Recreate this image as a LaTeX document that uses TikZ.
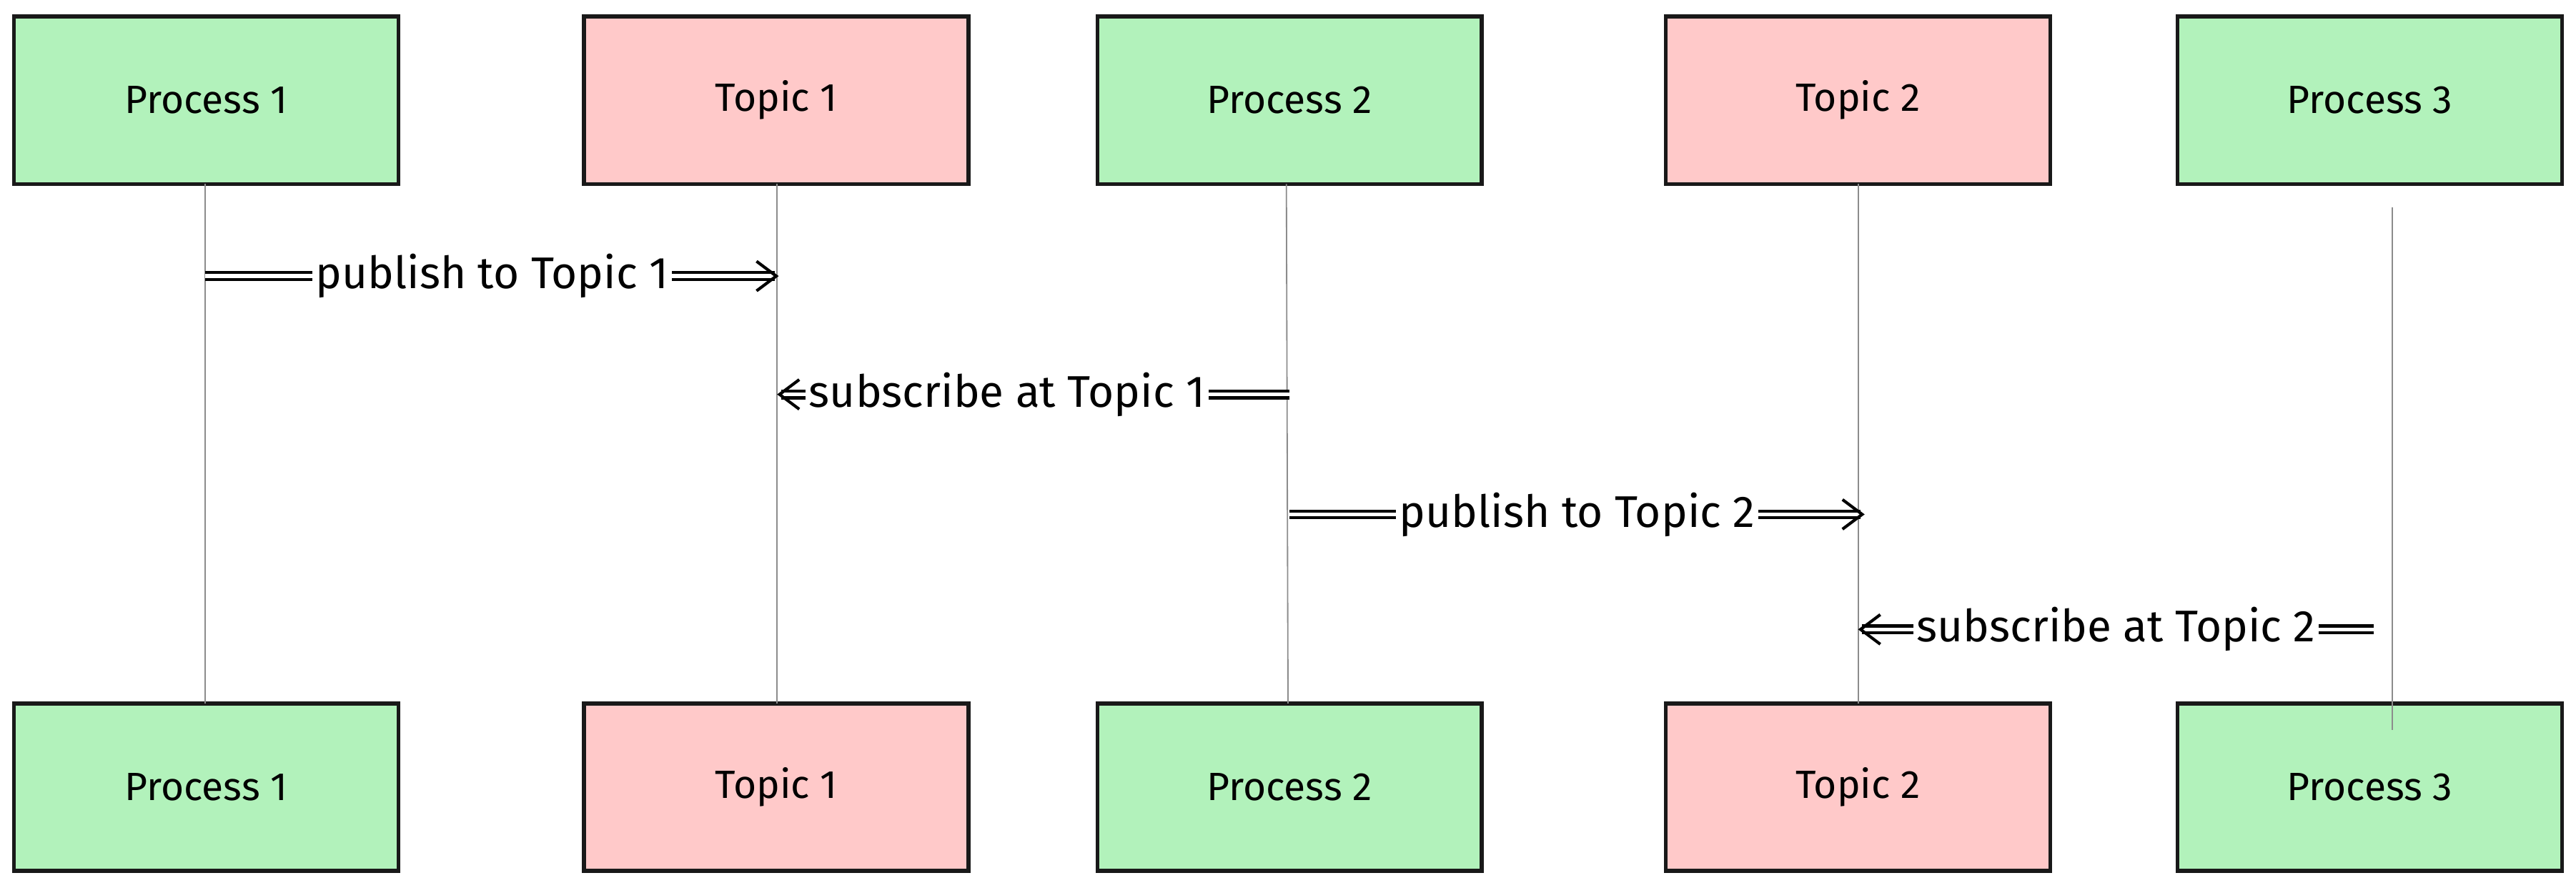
\documentclass[tikz,border=0pt]{standalone}
\usepackage{fontspec}
\setmainfont{Fira Sans}
\usetikzlibrary{arrows.meta}
\begin{document}
\begin{tikzpicture}[x=0.5pt,y=-0.5pt,
  proc/.style={draw=black!90,line width=1.2pt,fill=proccol,minimum width=117pt,minimum height=51pt,font=\fontsize{12}{14}\selectfont,inner sep=0},
  topic/.style={proc,fill=topiccol},
  life/.style={draw=black!45,line width=0.4pt},
  msg/.style={line width=0.9pt,double distance=1.2pt,-{Straight Barb[length=6pt,width=9pt]}},
  lbl/.style={fill=white,inner sep=1pt,font=\fontsize{13.5}{15}\selectfont}]
\definecolor{proccol}{HTML}{B2F2BB}
\definecolor{topiccol}{HTML}{FFC9C9}
\useasboundingbox (0,0) rectangle (1568,540);
\node[proc]  (p1t) at (125.5,61) {Process 1};
\node[topic] (t1t) at (472.5,61) {Topic 1};
\node[proc]  (p2t) at (785,61) {Process 2};
\node[topic] (t2t) at (1131,61) {Topic 2};
\node[proc]  (p3t) at (1442.5,61) {Process 3};
\node[proc]  (p1b) at (125.5,479) {Process 1};
\node[topic] (t1b) at (472.5,479) {Topic 1};
\node[proc]  (p2b) at (785,479) {Process 2};
\node[topic] (t2b) at (1131,479) {Topic 2};
\node[proc]  (p3b) at (1442.5,479) {Process 3};
\draw[life] (125,112) -- (125,428);
\draw[life] (473,112) -- (473,428);
\draw[life] (783,112) -- (784,428);
\draw[life] (1131,112) -- (1131,428);
\draw[life] (1456,126) -- (1456,444);
\coordinate (a1) at (125,168); \coordinate (b1) at (474,168);
\coordinate (a2) at (785,240); \coordinate (b2) at (473,240);
\coordinate (a3) at (785,313); \coordinate (b3) at (1135,313);
\coordinate (a4) at (1445,383); \coordinate (b4) at (1131,383);
\draw[msg] (a1) -- node[lbl]{publish to Topic 1} (b1);
\draw[msg] (a2) -- node[lbl,xshift=-8pt]{subscribe at Topic 1} (b2);
\draw[msg] (a3) -- node[lbl]{publish to Topic 2} (b3);
\draw[msg] (a4) -- node[lbl]{subscribe at Topic 2} (b4);
\end{tikzpicture}
\end{document}
